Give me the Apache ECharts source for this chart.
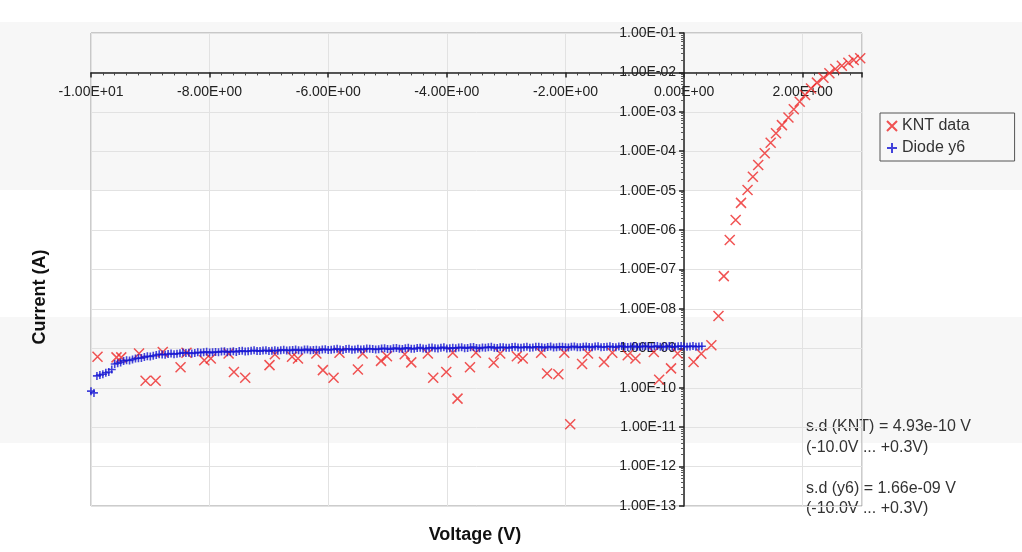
<!DOCTYPE html>
<html><head><meta charset="utf-8">
<script src="https://cdn.jsdelivr.net/npm/echarts@6/dist/echarts.min.js"></script>
<style>html,body{margin:0;padding:0;background:#fff}#c{width:1022px;height:552px}</style>
</head><body><div id="c"></div>
<script>
// ---- data ----
const knV = [-9.89,-9.57,-9.49,-9.19,-9.08,-8.91,-8.79,-8.49,-8.39,-8.09,-7.98,-7.68,-7.59,-7.40,
  -6.99,-6.90,-6.61,-6.51,-6.20,-6.09,-5.91,-5.81,-5.50,-5.42,-5.11,-5.01,-4.71,-4.60,-4.32,-4.23,
  -4.01,-3.90,-3.82,-3.61,-3.51,-3.21,-3.10,-2.82,-2.72,-2.41,-2.31,-2.12,-2.02,-1.92,-1.72,-1.62,
  -1.35,-1.21,-0.95,-0.82,-0.51,-0.42,-0.22,-0.11,0.16,0.29,0.46,0.58,0.67,0.77,0.87,0.96,1.07,
  1.16,1.25,1.36,1.46,1.55,1.65,1.76,1.85,1.95,2.04,2.14,2.24,2.35,2.45,2.55,2.66,2.77,2.86,2.97];
const knI = [6.1e-10,5.9e-10,5.9e-10,7.4e-10,1.5e-10,1.5e-10,8.1e-10,3.3e-10,7.7e-10,5.0e-10,5.5e-10,7.4e-10,2.5e-10,1.8e-10,
  3.75e-10,7.1e-10,6.1e-10,5.5e-10,7.4e-10,2.8e-10,1.8e-10,7.7e-10,2.9e-10,7.4e-10,4.8e-10,6.3e-10,7.1e-10,4.4e-10,7.4e-10,1.8e-10,
  2.5e-10,7.7e-10,5.3e-11,3.3e-10,7.7e-10,4.3e-10,7.4e-10,6.3e-10,5.5e-10,7.7e-10,2.3e-10,2.2e-10,7.7e-10,1.19e-11,4.0e-10,7.4e-10,
  4.5e-10,7.7e-10,6.7e-10,5.5e-10,8.1e-10,1.6e-10,3.1e-10,7.4e-10,4.5e-10,7.3e-10,1.2e-9,6.6e-9,6.8e-8,5.6e-7,1.8e-6,4.9e-6,1.04e-5,
  2.25e-5,4.5e-5,8.9e-5,1.64e-4,2.85e-4,4.6e-4,7.2e-4,1.16e-3,1.8e-3,2.67e-3,3.9e-3,5.5e-3,7.3e-3,9.5e-3,1.22e-2,1.48e-2,1.76e-2,2.07e-2,2.28e-2];

const y6V = [-10.0,-9.95,-9.9,-9.8,-9.7,-9.65,-9.6,-9.5,-9.4,-9.3,-9.2,-9.1,-9.0,-8.9,-8.8,-8.7,-8.6,-8.5,-8.4,-8.3,-8.2,-8.1,
  -8.0,-7.9,-7.8,-7.7,-7.6,-7.5,-7.4,-7.3,-7.2,-7.1,-7.0,-6.9,-6.8,-6.7,-6.6,-6.5,-6.4,-6.3,-6.2,-6.1,-6.0,-5.9,-5.8,-5.7,
  -5.6,-5.5,-5.4,-5.3,-5.2,-5.1,-5.0,-4.9,-4.8,-4.7,-4.6,-4.5,-4.4,-4.3,-4.2,-4.1,-4.0,-3.9,-3.8,-3.7,-3.6,-3.5,-3.4,-3.3,
  -3.2,-3.1,-3.0,-2.9,-2.8,-2.7,-2.6,-2.5,-2.4,-2.3,-2.2,-2.1,-2.0,-1.9,-1.8,-1.7,-1.6,-1.5,-1.4,-1.3,-1.2,-1.1,-1.0,-0.9,
  -0.8,-0.7,-0.6,-0.5,-0.4,-0.3,-0.2,-0.1,0.0,0.1,0.2,0.3];
const y6I = [8.2e-11,7.4e-11,2.0e-10,2.2e-10,2.5e-10,2.9e-10,4.0e-10,4.4e-10,5.0e-10,5.2e-10,5.6e-10,6.0e-10,6.2e-10,6.8e-10,7.0e-10,7.2e-10,7.1e-10,7.5e-10,7.6e-10,7.4e-10,7.9e-10,8.0e-10,
  7.8e-10,8.1e-10,8.3e-10,8.0e-10,8.4e-10,8.5e-10,8.3e-10,8.7e-10,8.6e-10,8.8e-10,8.5e-10,8.9e-10,9.0e-10,8.8e-10,9.1e-10,9.0e-10,9.3e-10,8.9e-10,9.2e-10,9.4e-10,9.1e-10,9.5e-10,9.3e-10,9.6e-10,
  9.2e-10,9.7e-10,9.5e-10,9.8e-10,9.4e-10,9.9e-10,9.6e-10,1.0e-9,9.7e-10,1.01e-9,9.8e-10,1.02e-9,9.9e-10,1.03e-9,1.0e-9,1.04e-9,9.9e-10,1.03e-9,1.05e-9,1.01e-9,1.06e-9,1.02e-9,1.05e-9,1.07e-9,
  1.03e-9,1.06e-9,1.04e-9,1.08e-9,1.05e-9,1.07e-9,1.04e-9,1.09e-9,1.06e-9,1.08e-9,1.05e-9,1.09e-9,1.07e-9,1.1e-9,1.06e-9,1.09e-9,1.08e-9,1.11e-9,1.07e-9,1.1e-9,1.08e-9,1.12e-9,1.09e-9,1.11e-9,
  1.08e-9,1.12e-9,1.1e-9,1.13e-9,1.09e-9,1.12e-9,1.1e-9,1.13e-9,1.11e-9,1.12e-9,1.1e-9,1.13e-9];
// intermediate readings of the same diode curve
const y6Vmid = [-9.85,-9.75,-9.55,-9.45,-9.35,-9.25,-9.15,-9.05,-8.95,-8.85,-8.75,-8.65,-8.55,-8.45,-8.35,-8.25,-8.15,-8.05,
  -7.95,-7.85,-7.75,-7.65,-7.55,-7.45,-7.35,-7.25,-7.15,-7.05,-6.95,-6.85,-6.75,-6.65,-6.55,-6.45,-6.35,-6.25,-6.15,-6.05,
  -5.95,-5.85,-5.75,-5.65,-5.55,-5.45,-5.35,-5.25,-5.15,-5.05,-4.95,-4.85,-4.75,-4.65,-4.55,-4.45,-4.35,-4.25,-4.15,-4.05,
  -3.95,-3.85,-3.75,-3.65,-3.55,-3.45,-3.35,-3.25,-3.15,-3.05,-2.95,-2.85,-2.75,-2.65,-2.55,-2.45,-2.35,-2.25,-2.15,-2.05,
  -1.95,-1.85,-1.75,-1.65,-1.55,-1.45,-1.35,-1.25,-1.15,-1.05,-0.95,-0.85,-0.75,-0.65,-0.55,-0.45,-0.35,-0.25,-0.15,-0.05,
  0.05,0.15,0.25];
const y6Imid = [2.1e-10,2.4e-10,4.2e-10,4.8e-10,4.9e-10,5.5e-10,5.7e-10,6.3e-10,6.5e-10,7.1e-10,6.9e-10,7.4e-10,7.3e-10,7.8e-10,7.7e-10,7.6e-10,7.7e-10,8.2e-10,
  7.9e-10,8.0e-10,8.4e-10,8.2e-10,8.1e-10,8.7e-10,8.4e-10,8.9e-10,8.5e-10,8.9e-10,8.7e-10,8.7e-10,9.2e-10,8.9e-10,9.3e-10,8.8e-10,9.4e-10,9.1e-10,9.0e-10,9.5e-10,
  9.2e-10,9.7e-10,9.1e-10,9.8e-10,9.4e-10,9.3e-10,9.9e-10,9.6e-10,9.5e-10,1.0e-9,9.5e-10,1.02e-9,9.6e-10,1.03e-9,9.7e-10,1.04e-9,9.8e-10,1.05e-9,9.9e-10,1.06e-9,
  1.0e-9,1.01e-9,1.07e-9,1.02e-9,1.08e-9,1.0e-9,1.04e-9,1.09e-9,1.02e-9,1.07e-9,1.03e-9,1.09e-9,1.04e-9,1.1e-9,1.05e-9,1.1e-9,1.04e-9,1.11e-9,1.06e-9,1.1e-9,
  1.05e-9,1.12e-9,1.07e-9,1.12e-9,1.06e-9,1.13e-9,1.08e-9,1.13e-9,1.07e-9,1.14e-9,1.08e-9,1.14e-9,1.09e-9,1.14e-9,1.08e-9,1.14e-9,1.09e-9,1.15e-9,1.09e-9,1.14e-9,
  1.1e-9,1.14e-9,1.11e-9];

const xMin = -10, xMax = 3, xStep = 2;
const yMin = 1e-13, yMax = 1e-1, xAxisCrossY = 1e-2, yAxisCrossX = 0;
const seriesNames = ['KNT data', 'Diode y6'];
const axisNames = ['Voltage (V)', 'Current (A)'];
const notes = ['s.d (KNT) = 4.93e-10 V', '(-10.0V ... +0.3V)', 's.d (y6) = 1.66e-09 V', '(-10.0V ... +0.3V)'];

function sci(v) {
  let s = Number(v).toExponential(2).toUpperCase();
  return s.replace(/E([+-])(\d)$/, 'E$10$2');
}

const FONT = '"Liberation Sans", Arial, sans-serif';
const G = {left: 91, top: 33, width: 771, height: 473};
// axis crossing offsets derived from the axis scales (negative offset = inside the grid)
const xAxisOffset = -G.height * (Math.log10(yMax) - Math.log10(xAxisCrossY)) / (Math.log10(yMax) - Math.log10(yMin));
const yAxisOffset = -G.width * (yAxisCrossX - xMin) / (xMax - xMin);

const y6Data = y6V.map((v, i) => [v, y6I[i]]).concat(y6Vmid.map((v, i) => [v, y6Imid[i]]));

const chart = echarts.init(document.getElementById('c'), null, {renderer: 'canvas'});
chart.setOption({
  backgroundColor: '#fff',
  animation: false,
  textStyle: {fontFamily: FONT},
  grid: Object.assign({show: true, borderColor: '#999', borderWidth: 1, backgroundColor: 'transparent'}, G),
  graphic: [
    {type: 'rect', z: -10, silent: true, shape: {x: 0, y: 22, width: 1022, height: 168}, style: {fill: '#f7f7f7'}},
    {type: 'rect', z: -10, silent: true, shape: {x: 0, y: 317, width: 1022, height: 126}, style: {fill: '#f7f7f7'}},
    {type: 'text', x: 40, y: 297, rotation: Math.PI / 2, style: {text: axisNames[1], font: 'bold 18px ' + FONT, fill: '#111', align: 'center', verticalAlign: 'middle'}},
    {type: 'text', x: 475, y: 535, style: {text: axisNames[0], font: 'bold 18px ' + FONT, fill: '#111', align: 'center', verticalAlign: 'middle'}},
    {type: 'text', x: 806, y: 427, style: {text: notes[0], font: '16px ' + FONT, fill: '#333', verticalAlign: 'middle'}},
    {type: 'text', x: 806, y: 448, style: {text: notes[1], font: '16px ' + FONT, fill: '#333', verticalAlign: 'middle'}},
    {type: 'text', x: 806, y: 489, style: {text: notes[2], font: '16px ' + FONT, fill: '#333', verticalAlign: 'middle'}},
    {type: 'text', x: 806, y: 509, style: {text: notes[3], font: '16px ' + FONT, fill: '#333', verticalAlign: 'middle'}}
  ],
  legend: {
    orient: 'vertical', left: 880, top: 113,
    padding: [5, 45, 5, 6], itemGap: 6, itemWidth: 10, itemHeight: 10,
    borderColor: '#555', borderWidth: 1,
    textStyle: {fontSize: 16, color: '#333', fontFamily: FONT},
    data: seriesNames
  },
  xAxis: {
    type: 'value', min: xMin, max: xMax, interval: xStep,
    position: 'top', offset: xAxisOffset,
    axisLine: {onZero: false, lineStyle: {color: '#222', width: 1.5}},
    axisTick: {show: true, inside: true, length: 5, lineStyle: {color: '#222', width: 1.5}},
    minorTick: {show: true, splitNumber: 10, length: 3, lineStyle: {color: '#444'}},
    axisLabel: {inside: true, margin: 13, fontSize: 14, color: '#222', fontFamily: FONT, showMaxLabel: false,
      formatter: v => (Math.abs(v - xMax) < 1e-9 ? '' : sci(v))},
    splitLine: {show: true, lineStyle: {color: '#e2e2e2'}}
  },
  yAxis: {
    type: 'log', logBase: 10, min: yMin, max: yMax, interval: 1, splitNumber: 12,
    position: 'left', offset: yAxisOffset,
    axisLine: {onZero: false, lineStyle: {color: '#222', width: 1.5}},
    axisTick: {show: true, length: 5, lineStyle: {color: '#222', width: 1.5}},
    minorTick: {show: true, splitNumber: 9, length: 3, lineStyle: {color: '#555'}},
    axisLabel: {fontSize: 14, color: '#222', fontFamily: FONT, formatter: v => sci(v)},
    splitLine: {show: true, lineStyle: {color: '#e2e2e2'}}
  },
  series: [
    {
      name: seriesNames[0], type: 'scatter', z: 3,
      symbol: 'path://M0,0L10,10M10,0L0,10', symbolSize: 10,
      itemStyle: {color: 'rgba(0,0,0,0)', borderColor: '#ee2828', borderWidth: 1.5},
      data: knV.map((v, i) => [v, knI[i]])
    },
    {
      name: seriesNames[1], type: 'scatter', z: 4,
      symbol: 'path://M5,0L5,10M0,5L10,5', symbolSize: 8,
      itemStyle: {color: 'rgba(0,0,0,0)', borderColor: '#1414d2', borderWidth: 1.6},
      data: y6Data
    }
  ]
});
</script></body></html>
